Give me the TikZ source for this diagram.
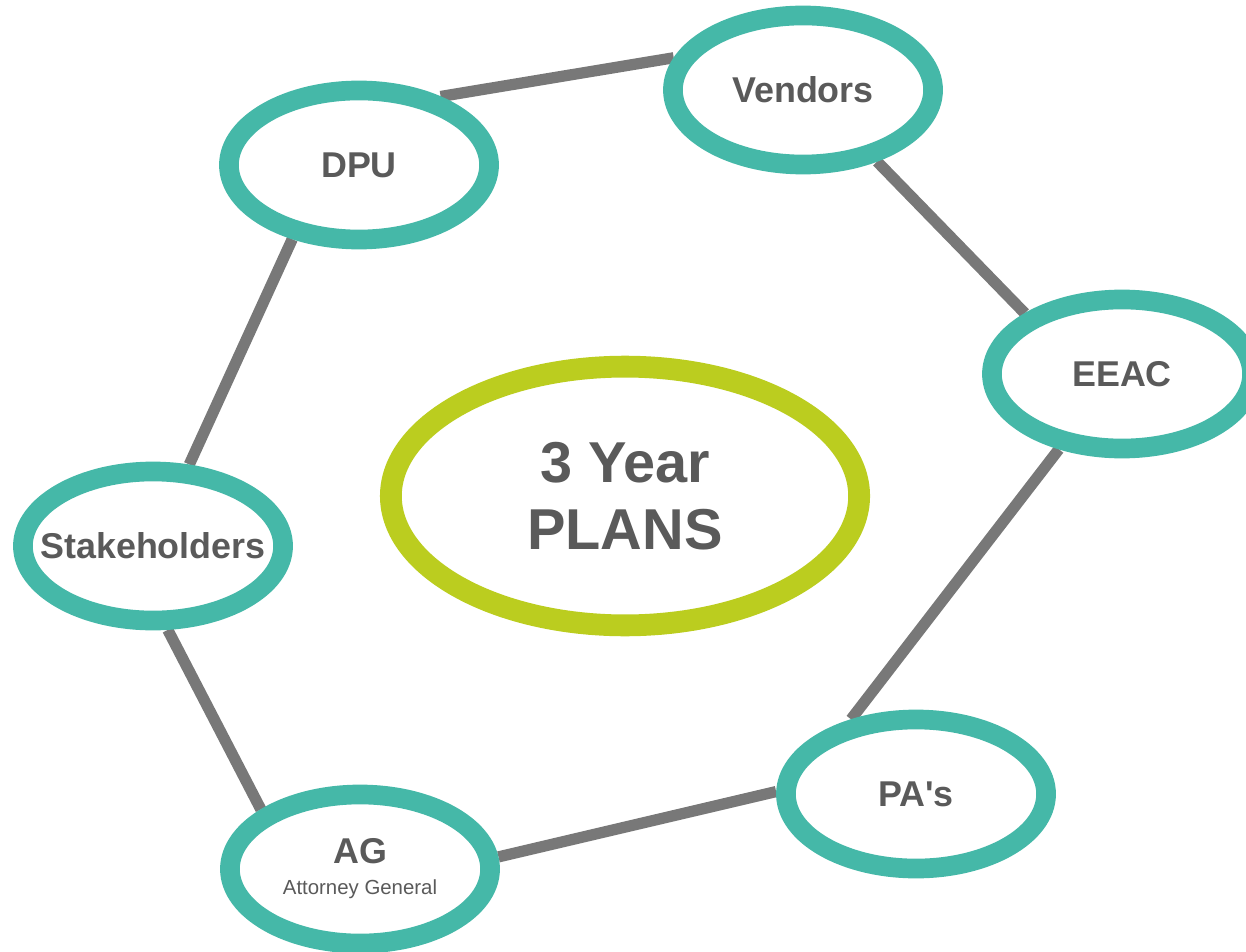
\documentclass[tikz,border=0pt]{standalone}
\usepackage{fontspec}
\setmainfont{Liberation Sans}
\usetikzlibrary{shapes.geometric,backgrounds}

\definecolor{ringteal}{HTML}{45B8A8}
\definecolor{ringlime}{HTML}{BBCD1F}
\definecolor{linkgray}{HTML}{787878}
\definecolor{labelgray}{HTML}{5A5A5A}

\tikzset{
	party/.style={ellipse, draw=ringteal, fill=white, line width=14pt,
		minimum width=185pt, minimum height=106pt, inner sep=0pt,
		text=labelgray, font=\bfseries\fontsize{25.5}{27}\selectfont},
	plan/.style={ellipse, draw=ringlime, fill=white, line width=15.5pt,
		minimum width=333pt, minimum height=184pt, inner sep=0pt, align=center,
		text=labelgray, font=\bfseries\fontsize{41}{47.5}\selectfont},
	link/.style={draw=linkgray, line width=8pt},
}

\begin{document}
\begin{tikzpicture}[x=0.025cm,y=-0.025cm]
			%%%	Cornice
			\useasboundingbox (0,0) rectangle (1246,951);
			%%%	Nodi
			\node[plan] (plans) at (625,496) {3 Year\\PLANS};
			\node[party] (vendors) at (803,90) {Vendors};
			\node[party] (dpu) at (359,165) {DPU};
			\node[party] (eeac) at (1122,374) {EEAC};
			\node[party, inner xsep=-16pt] (stake) at (153,546) {Stakeholders};
			\node[party] (pas) at (916,794) {PA\textquotesingle s};
			\node[party, align=center] (ag) at (360,869)
				{AG\\[-5pt]{\mdseries\fontsize{14.5}{16}\selectfont Attorney General}};
			%%%	Collegamenti
			\begin{scope}[on background layer]
				\draw[link] (dpu.40) -- (vendors.166);
				\draw[link] (vendors.-44) -- (eeac.148);
				\draw[link] (eeac.230) -- (pas.131);
				\draw[link] (pas.179) -- (ag.5);
				\draw[link] (ag.149) -- (stake.-80);
				\draw[link] (stake.66) -- (dpu.228);
			\end{scope}
		\end{tikzpicture}
\end{document}
